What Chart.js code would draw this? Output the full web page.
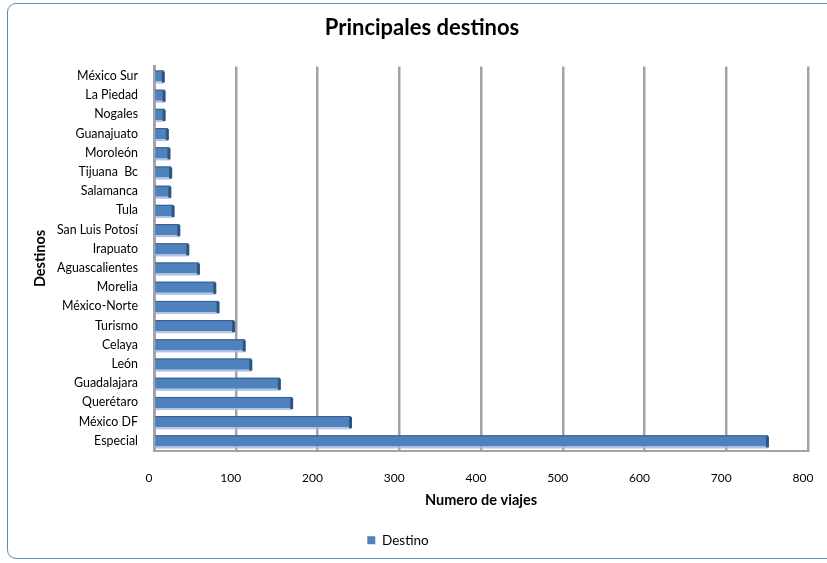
<!DOCTYPE html>
<html>
<head>
<meta charset="utf-8">
<script src="https://cdn.jsdelivr.net/npm/chart.js@4/dist/chart.umd.min.js"></script>
<style>
  html, body { margin: 0; padding: 0; background: #fff; }
  #frame {
    position: absolute; left: 7px; top: 3px; width: 840px; height: 556px;
    border: 1px solid #6285bb; border-radius: 9px; box-sizing: border-box;
  }
  #wrap { position: absolute; left: 0; top: 0; width: 827px; height: 563px; }
</style>
</head>
<body>
<div id="frame"></div>
<div id="wrap"><canvas id="destinosChart"></canvas></div>
<script>
// Chart data
const destinos = [
    'México Sur', 'La Piedad', 'Nogales', 'Guanajuato', 'Moroleón',
    'Tijuana  Bc', 'Salamanca', 'Tula', 'San Luis Potosí', 'Irapuato',
    'Aguascalientes', 'Morelia', 'México-Norte', 'Turismo', 'Celaya',
    'León', 'Guadalajara', 'Querétaro', 'México DF', 'Especial'
];
const viajes = [12, 13, 13, 17, 19, 21, 20, 24, 31, 42, 55, 75, 79, 98, 111, 119, 154, 169, 241, 751];
const xTicks = [0, 100, 200, 300, 400, 500, 600, 700, 800];

const fontFamily = 'Lato, "Liberation Sans", sans-serif';

// little shading on the bars (light shadow under, dark end cap)
const barShade = {
    id: 'barShade',
    afterDatasetsDraw(chart) {
        const ctx = chart.ctx;
        chart.getDatasetMeta(0).data.forEach(bar => {
            const top = bar.y - bar.height / 2;
            const bottom = bar.y + bar.height / 2;
            ctx.save();
            ctx.fillStyle = 'rgba(167,191,224,0.9)';
            ctx.fillRect(bar.base, bottom, bar.x - bar.base, 2);
            ctx.fillStyle = '#2f5482';
            ctx.fillRect(bar.x - 2, top + 1, 3, bar.height);
            ctx.fillStyle = '#355f95';
            ctx.fillRect(bar.base, top, bar.x - bar.base, 1);
            ctx.restore();
        });
    }
};

// legend sits left of the middle in the original, title a little right
const boxShift = {
    id: 'boxShift',
    afterLayout(chart) {
        const move = (box, centre) => {
            const dx = (box.left + box.right) / 2 - centre;
            box.left -= dx;
            box.right -= dx;
        };
        move(chart.legend, 398);
        move(chart.titleBlock, 422);
    }
};

const chartCtx = document.getElementById('destinosChart').getContext('2d');
new Chart(chartCtx, {
    type: 'bar',
    data: {
        labels: destinos,
        datasets: [{
            label: 'Destino',
            data: viajes,
            backgroundColor: '#4f81bd',
            borderWidth: 0,
            barPercentage: 0.58,
            categoryPercentage: 1
        }]
    },
    options: {
        indexAxis: 'y',
        responsive: true,
        maintainAspectRatio: false,
        animation: false,
        layout: { padding: { left: 28, right: 19, top: 0, bottom: 6 } },
        plugins: {
            title: {
                display: true,
                text: 'Principales destinos',
                color: '#000',
                font: { family: fontFamily, size: 22, weight: 'bold' },
                padding: { top: 15, bottom: 25 }
            },
            legend: {
                position: 'bottom',
                labels: {
                    color: '#000',
                    boxWidth: 8,
                    boxHeight: 8,
                    padding: 10,
                    font: { family: fontFamily, size: 13.5 }
                }
            },
            tooltip: { enabled: false }
        },
        scales: {
            x: {
                min: 0,
                max: 800,
                afterBuildTicks: axis => { axis.ticks = xTicks.map(v => ({ value: v })); },
                afterFit: axis => { axis.height = 73; },
                grid: {
                    color: '#a3a3a3',
                    lineWidth: 2.5,
                    drawTicks: true,
                    tickLength: 18,
                    tickColor: 'rgba(0,0,0,0)'
                },
                border: { color: '#a3a3a3', width: 2 },
                ticks: {
                    color: '#000',
                    padding: 2,
                    labelOffset: -5,
                    font: { family: fontFamily, size: 12 }
                },
                title: {
                    display: true,
                    text: 'Numero de viajes',
                    color: '#000',
                    font: { family: fontFamily, size: 14.5, weight: 'bold' },
                    padding: { top: 4, bottom: 14 }
                }
            },
            y: {
                afterFit: axis => { axis.width = 126; },
                grid: { display: false },
                border: { color: '#a3a3a3', width: 3 },
                ticks: {
                    color: '#000',
                    padding: 8,
                    autoSkip: false,
                    font: { family: fontFamily, size: 12.4 }
                },
                title: {
                    display: true,
                    text: 'Destinos',
                    color: '#000',
                    font: { family: fontFamily, size: 14.5, weight: 'bold' },
                    padding: 4
                }
            }
        }
    },
    plugins: [barShade, boxShift]
});
</script>
</body>
</html>
